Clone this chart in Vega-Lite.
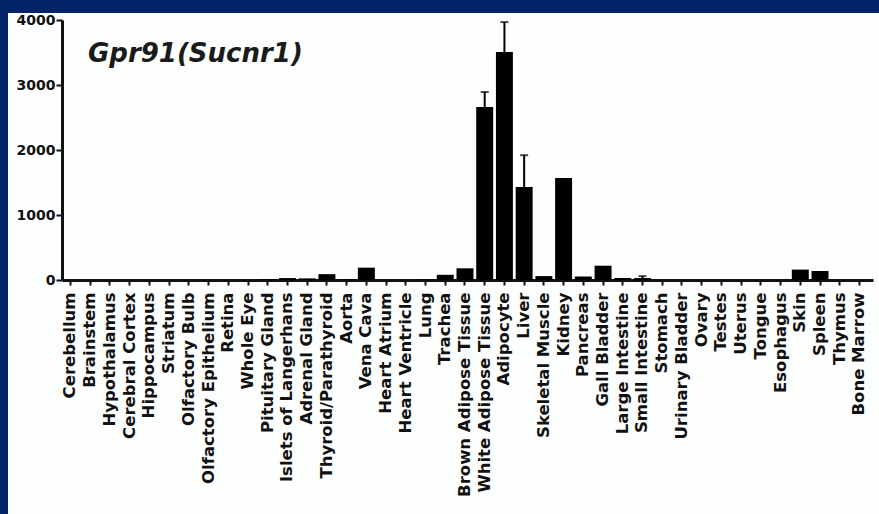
{
  "$schema": "https://vega.github.io/schema/vega-lite/v6.json",
  "width": 871,
  "height": 501,
  "autosize": {"type": "none"},
  "padding": {"left": 8, "top": 13, "right": 0, "bottom": 0},
  "background": "#03246a",
  "config": {
    "view": {"fill": "#fdfefe", "stroke": null},
    "axis": {"domainColor": "#111111", "tickColor": "#111111", "labelColor": "#111111", "grid": false}
  },
  "title": {
    "text": "Gpr91(Sucnr1)",
    "anchor": "start",
    "frame": "group",
    "orient": "top",
    "offset": -75,
    "baseline": "alphabetic",
    "dx": 80,
    "font": "DejaVu Sans",
    "fontSize": 26,
    "fontWeight": "bold",
    "fontStyle": "italic",
    "color": "#1a1a1a"
  },
  "data": {
    "values": [
      {"tissue": "Cerebellum", "value": 0, "sem": 0},
      {"tissue": "Brainstem", "value": 0, "sem": 0},
      {"tissue": "Hypothalamus", "value": 0, "sem": 0},
      {"tissue": "Cerebral Cortex", "value": 0, "sem": 0},
      {"tissue": "Hippocampus", "value": 0, "sem": 0},
      {"tissue": "Striatum", "value": 0, "sem": 0},
      {"tissue": "Olfactory Bulb", "value": 0, "sem": 0},
      {"tissue": "Olfactory Epithelium", "value": 0, "sem": 0},
      {"tissue": "Retina", "value": 0, "sem": 0},
      {"tissue": "Whole Eye", "value": 0, "sem": 0},
      {"tissue": "Pituitary Gland", "value": 10, "sem": 0},
      {"tissue": "Islets of Langerhans", "value": 30, "sem": 0},
      {"tissue": "Adrenal Gland", "value": 25, "sem": 0},
      {"tissue": "Thyroid/Parathyroid", "value": 90, "sem": 0},
      {"tissue": "Aorta", "value": 10, "sem": 0},
      {"tissue": "Vena Cava", "value": 190, "sem": 0},
      {"tissue": "Heart Atrium", "value": 0, "sem": 0},
      {"tissue": "Heart Ventricle", "value": 0, "sem": 0},
      {"tissue": "Lung", "value": 5, "sem": 0},
      {"tissue": "Trachea", "value": 80, "sem": 0},
      {"tissue": "Brown Adipose Tissue", "value": 180, "sem": 0},
      {"tissue": "White Adipose Tissue", "value": 2662, "sem": 230},
      {"tissue": "Adipocyte", "value": 3508, "sem": 460},
      {"tissue": "Liver", "value": 1431, "sem": 490},
      {"tissue": "Skeletal Muscle", "value": 60, "sem": 0},
      {"tissue": "Kidney", "value": 1569, "sem": 0},
      {"tissue": "Pancreas", "value": 55, "sem": 0},
      {"tissue": "Gall Bladder", "value": 220, "sem": 0},
      {"tissue": "Large Intestine", "value": 30, "sem": 0},
      {"tissue": "Small Intestine", "value": 30, "sem": 30},
      {"tissue": "Stomach", "value": 0, "sem": 0},
      {"tissue": "Urinary Bladder", "value": 0, "sem": 0},
      {"tissue": "Ovary", "value": 0, "sem": 0},
      {"tissue": "Testes", "value": 0, "sem": 0},
      {"tissue": "Uterus", "value": 0, "sem": 0},
      {"tissue": "Tongue", "value": 0, "sem": 0},
      {"tissue": "Esophagus", "value": 0, "sem": 0},
      {"tissue": "Skin", "value": 160, "sem": 0},
      {"tissue": "Spleen", "value": 140, "sem": 0},
      {"tissue": "Thymus", "value": 0, "sem": 0},
      {"tissue": "Bone Marrow", "value": 0, "sem": 0}
    ]
  },
  "encoding": {
    "x": {
      "field": "tissue",
      "type": "nominal",
      "sort": null,
      "scale": {"range": [54, 865], "paddingInner": 0.14, "paddingOuter": 0.128, "align": 0},
      "axis": {
        "title": null,
        "offset": -234,
        "labelAngle": -90,
        "labelAlign": "right",
        "labelBaseline": "middle",
        "labelFont": "DejaVu Sans",
        "labelFontSize": 16.5,
        "labelFontWeight": "bold",
        "labelPadding": 7,
        "labelOverlap": false,
        "labelLimit": 0,
        "tickSize": 5,
        "tickWidth": 2,
        "domainWidth": 3
      }
    },
    "y": {
      "field": "value",
      "type": "quantitative",
      "scale": {"domain": [0, 4000], "range": [267, 7], "nice": false},
      "axis": {
        "title": null,
        "offset": -54,
        "values": [0, 1000, 2000, 3000, 4000],
        "format": "d",
        "labelFont": "DejaVu Sans",
        "labelFontSize": 14,
        "labelFontWeight": "bold",
        "labelPadding": 1,
        "tickSize": 6,
        "tickWidth": 2,
        "domainWidth": 3
      }
    }
  },
  "layer": [
    {
      "mark": {"type": "bar", "color": "#000000"}
    },
    {
      "transform": [{"filter": "datum.sem > 0"}],
      "mark": {"type": "errorbar", "ticks": {"size": 8, "thickness": 2, "color": "#000000"}, "rule": {"strokeWidth": 2, "color": "#000000"}},
      "encoding": {
        "yError": {"field": "sem"}
      }
    }
  ]
}
